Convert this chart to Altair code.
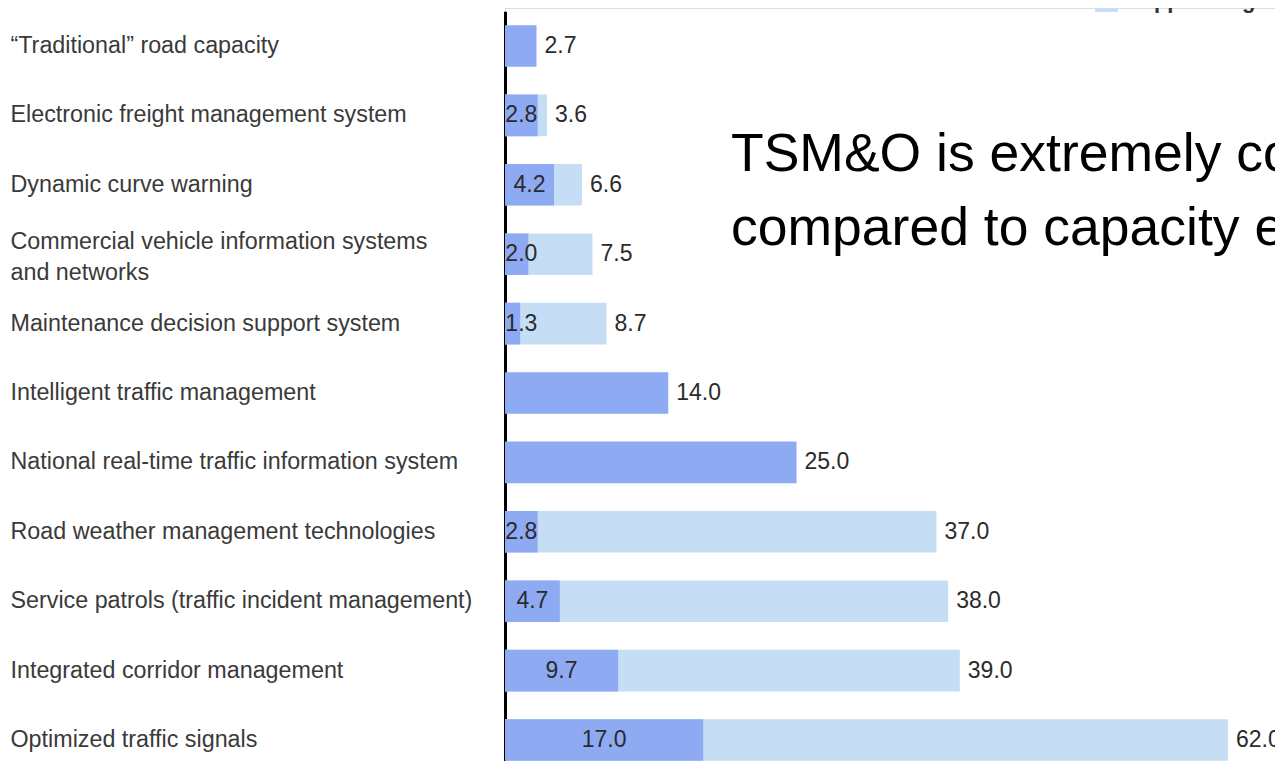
import altair as alt
import pandas as pd

categories = [
    "\u201cTraditional\u201d road capacity",
    "Electronic freight management system",
    "Dynamic curve warning",
    "Commercial vehicle information systems\nand networks",
    "Maintenance decision support system",
    "Intelligent traffic management",
    "National real-time traffic information system",
    "Road weather management technologies",
    "Service patrols (traffic incident management)",
    "Integrated corridor management",
    "Optimized traffic signals",
]
lower_range = [2.7, 2.8, 4.2, 2.0, 1.3, 14.0, 25.0, 2.8, 4.7, 9.7, 17.0]
upper_range = [None, 3.6, 6.6, 7.5, 8.7, None, None, 37.0, 38.0, 39.0, 62.0]
series_names = ["Lower range", "Upper range"]
series_colors = ["#8eaaf2", "#c6ddf6"]
headline = ["TSM&O is extremely cost-effective", "compared to capacity expansion"]

df = pd.DataFrame({
    "cat": categories,
    "Lower range": lower_range,
    "Upper range": upper_range,
})
df["end"] = [u if u is not None else l for l, u in zip(lower_range, upper_range)]
df["has_upper"] = [u is not None for u in upper_range]

y_enc = alt.Y(
    "cat:N",
    sort=categories,
    scale=alt.Scale(range=[3.3, 766.7], paddingInner=0.4, paddingOuter=0.2),
    axis=alt.Axis(
        title=None, ticks=False, domain=True, domainColor="#000000", domainWidth=3,
        labelAlign="left", labelPadding=495, labelFont="Liberation Sans",
        labelFontSize=23.3, labelColor="#3a3a3a", labelLimit=0,
        labelExpr="split(datum.label, '\\n')", labelLineHeight=31,
        labelOffset={"condition": {"test": "indexof(datum.value, '\\n') >= 0", "value": -12}, "value": 0},
    ),
)
x_scale = alt.Scale(domain=[0, 66.03], nice=False, zero=True)

base = alt.Chart(df)

bars = base.transform_fold(
    ["Upper range", "Lower range"], as_=["series", "value"]
).transform_filter(
    "isValid(datum.value)"
).mark_bar().encode(
    y=y_enc,
    x=alt.X("value:Q", scale=x_scale, axis=None, stack=None),
    color=alt.Color(
        "series:N",
        scale=alt.Scale(domain=series_names, range=series_colors),
        legend=alt.Legend(
            title=None, orient="none", legendX=590, legendY=-50,
            symbolType="square", symbolSize=520, symbolStrokeWidth=0,
            labelFont="Liberation Sans", labelFontSize=22, labelFontWeight="bold",
            labelColor="#333333", rowPadding=8, labelOffset=20,
        ),
    ),
)

label_font = "Liberation Sans"
label_size = 23

inner_labels = base.transform_filter("datum.has_upper").transform_calculate(
    mid="max(datum['Lower range'] / 2, 1.4)"
).mark_text(
    align="center", baseline="middle", font=label_font,
    fontSize=label_size, color="#2b2b2b",
).encode(
    y=alt.Y("cat:N", sort=categories),
    x=alt.X("mid:Q", scale=x_scale),
    text=alt.Text("Lower range:Q", format=".1f"),
)

end_labels = base.mark_text(
    align="left", baseline="middle", dx=8, font=label_font,
    fontSize=label_size, color="#2b2b2b",
).encode(
    y=alt.Y("cat:N", sort=categories),
    x=alt.X("end:Q", scale=x_scale),
    text=alt.Text("end:Q", format=".1f"),
)

chart = alt.layer(bars, inner_labels, end_labels).properties(
    width=770,
    height=753,
    padding={"left": 497, "top": 0, "right": 0, "bottom": 0},
    autosize=alt.AutoSizeParams(type="none"),
    title=alt.Title(
        headline, anchor="start", orient="top", dx=721, dy=298,
        font="Liberation Sans", fontSize=53.5, fontWeight="normal",
        color="#000000", lineHeight=74, baseline="top", offset=0,
    ),
).configure_view(stroke=None).configure(background="#ffffff")

chart.save("out.html", embed_options={"renderer": "svg", "actions": False})
